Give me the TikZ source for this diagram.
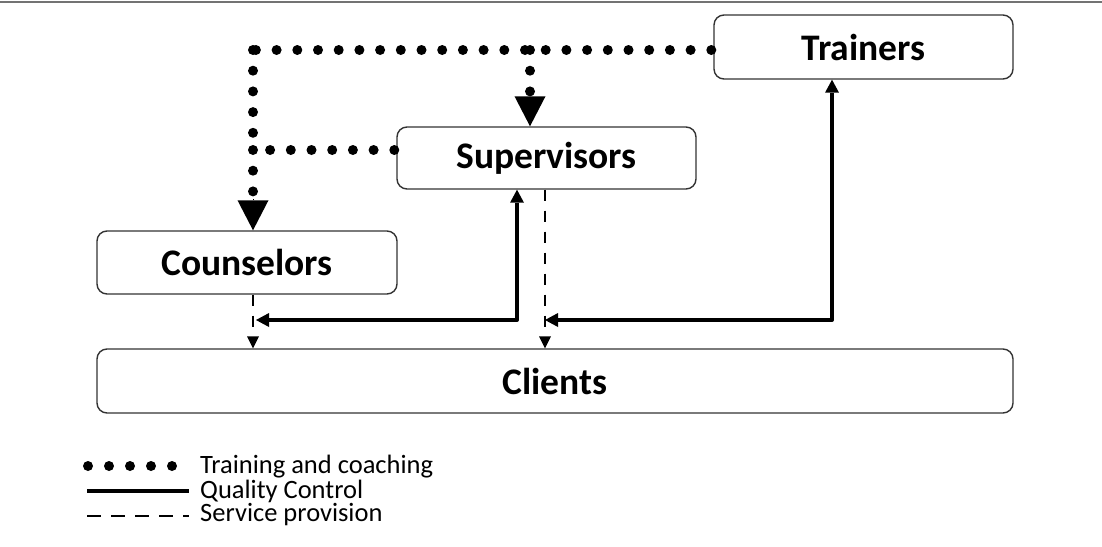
\documentclass[tikz,border=0pt]{standalone}
\usepackage{fontspec}
\setmainfont{Carlito}
\usetikzlibrary{arrows.meta}
\tikzset{
  box/.style={draw=black!80, line width=1.4pt, rounded corners=10pt, inner sep=0pt, align=center,
    font=\fontsize{37.5}{40}\selectfont\bfseries},
  dotline/.style={line width=10pt, line cap=round, dash pattern=on 0pt off 20.7pt},
  qline/.style={line width=4pt, line join=round},
  sline/.style={line width=2.8pt, dash pattern=on 11pt off 10pt},
  bigtip/.style={-{Triangle[width=31pt,length=30pt,line width=0pt]}},
  qtip/.tip={Triangle[width=14pt,length=13pt,line width=0pt]},
  stip/.tip={Triangle[width=12pt,length=12pt,line width=0pt]},
  legtext/.style={anchor=west, inner sep=0pt, font=\fontsize{26.5}{28}\selectfont}
}
\begin{document}
\begin{tikzpicture}[x=1pt,y=-1pt]
\useasboundingbox (0,0) rectangle (1102,546);
\draw[black!55, line width=1.5pt] (0,2) -- (1102,2);

\node[box, minimum width=299pt, minimum height=64pt] (Trainers) at (863.5,47) {Trainers};
\node[box, minimum width=299pt, minimum height=62pt] (Supervisors) at (546.5,158) {Supervisors};
\node[box, minimum width=300pt, minimum height=63pt] (Counselors) at (247,262.5) {Counselors};
\node[box, minimum width=916pt, minimum height=64pt] (Clients) at (555,381) {Clients};

% training and coaching (dotted)
\coordinate (tl) at (253,50);
\coordinate (tb) at (530,50);
\coordinate (ts) at (253,150);
\draw[dotline] ([xshift=-2pt]Trainers.west |- tl) -- (tl);
\draw[dotline] (tl) -- (ts);
\draw[dotline] ([xshift=-2pt]Supervisors.west |- ts) -- (ts);
\draw[dotline] (ts) -- ([yshift=30pt]Counselors.north -| tl);
\draw[bigtip] ([yshift=31pt]Counselors.north -| tl) -- (Counselors.north -| tl);
\draw[dotline] (tb) -- ([yshift=30pt]Supervisors.north -| tb);
\draw[bigtip] ([yshift=31pt]Supervisors.north -| tb) -- (Supervisors.north -| tb);

% quality control (solid)
\coordinate (q1) at (517,320);
\coordinate (q1e) at (256,320);
\coordinate (q2) at (832,320);
\coordinate (q2e) at (545,320);
\draw[qline, {qtip}-{qtip}] (q1e) -- (q1) -- (Supervisors.south -| q1);
\draw[qline, {qtip}-{qtip}] (q2e) -- (q2) -- (Trainers.south -| q2);

% service provision (dashed)
\coordinate (s1) at (253,300);
\coordinate (s2) at (545,300);
\draw[sline, -{stip}] (Counselors.south -| s1) -- (Clients.north -| s1);
\draw[sline, -{stip}] (Supervisors.south -| s2) -- (Clients.north -| s2);

% legend
\coordinate (l1a) at (88,466);
\coordinate (l1b) at (180,466);
\coordinate (l2a) at (87,491);
\coordinate (l2b) at (189,491);
\coordinate (l3a) at (87,516);
\coordinate (l3b) at (189,516);
\draw[dotline, dash pattern=on 0pt off 21pt] (l1a) -- (l1b);
\draw[line width=3.5pt] (l2a) -- (l2b);
\draw[line width=2.8pt, dash pattern=on 14pt off 10pt] (l3a) -- (l3b);
\node[legtext] (lt1) at (200,467) {Training and coaching};
\node[legtext] (lt2) at (200,491) {Quality Control};
\node[legtext] (lt3) at (200,515) {Service provision};
\end{tikzpicture}
\end{document}
